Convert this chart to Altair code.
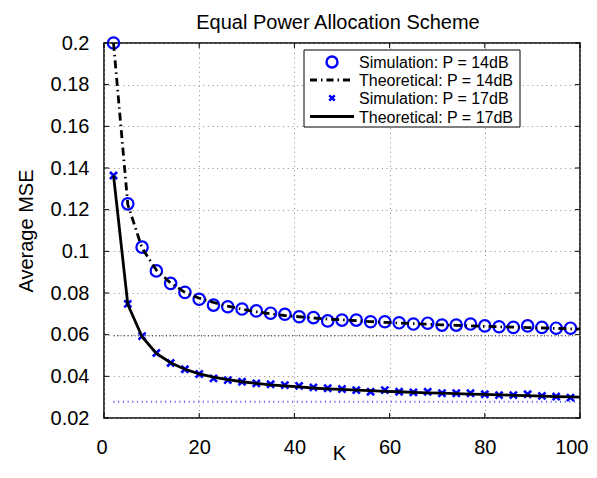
import altair as alt
import pandas as pd

# ---- data ----
K_sim = [2, 5, 8, 11, 14, 17, 20, 23, 26, 29, 32, 35, 38, 41, 44, 47, 50,
         53, 56, 59, 62, 65, 68, 71, 74, 77, 80, 83, 86, 89, 92, 95, 98]
sim_14 = [0.2000, 0.1228, 0.1020, 0.0906, 0.0846, 0.0803, 0.0770, 0.0742,
          0.0734, 0.0723, 0.0714, 0.0703, 0.0698, 0.0686, 0.0682, 0.0666,
          0.0670, 0.0670, 0.0662, 0.0662, 0.0657, 0.0651, 0.0655, 0.0646,
          0.0646, 0.0651, 0.0642, 0.0638, 0.0635, 0.0642, 0.0635, 0.0631, 0.0631]
sim_17 = [0.1364, 0.0748, 0.0593, 0.0512, 0.0464, 0.0434, 0.0411, 0.0390,
          0.0382, 0.0374, 0.0366, 0.0362, 0.0358, 0.0354, 0.0347, 0.0343,
          0.0339, 0.0334, 0.0326, 0.0334, 0.0326, 0.0323, 0.0326, 0.0319,
          0.0319, 0.0319, 0.0314, 0.0310, 0.0310, 0.0314, 0.0306, 0.0303, 0.0298]
K_theory = K_sim + [100]
theory_14 = [0.2000, 0.1225, 0.1015, 0.0910, 0.0848, 0.0803, 0.0775, 0.0755,
             0.0737, 0.0722, 0.0710, 0.0700, 0.0692, 0.0686, 0.0680, 0.0675,
             0.0671, 0.0667, 0.0663, 0.0659, 0.0656, 0.0653, 0.0650, 0.0647,
             0.0645, 0.0642, 0.0640, 0.0638, 0.0636, 0.0634, 0.0632, 0.0630,
             0.0628, 0.0627]
theory_17 = [0.1365, 0.0745, 0.0590, 0.0510, 0.0465, 0.0434, 0.0412, 0.0396,
             0.0384, 0.0374, 0.0366, 0.0359, 0.0354, 0.0349, 0.0344, 0.0340,
             0.0337, 0.0334, 0.0331, 0.0328, 0.0326, 0.0323, 0.0321, 0.0319,
             0.0317, 0.0315, 0.0313, 0.0311, 0.0309, 0.0307, 0.0305, 0.0303,
             0.0301, 0.0300]
floor_K = [2, 99]
floor_14 = [0.0595, 0.0595]
floor_17 = [0.0278, 0.0278]
x_ticks = [0, 20, 40, 60, 80, 100]
y_ticks = [0.02, 0.04, 0.06, 0.08, 0.10, 0.12, 0.14, 0.16, 0.18, 0.20]
legend_labels = ["Simulation: P = 14dB", "Theoretical: P = 14dB",
                 "Simulation: P = 17dB", "Theoretical: P = 17dB"]
title_text = "Equal Power Allocation Scheme"

FONT = "Liberation Sans"
BLUE = "#0000ff"
W, H = 476, 375
XS = alt.Scale(domain=[0, 100], nice=False, zero=False, padding=0)
YS = alt.Scale(domain=[0.02, 0.2], nice=False, zero=False, padding=0)
XPATH = "M-1,-1L1,1M-1,1L1,-1"
DASHDOT = [8, 4, 1.5, 4]

df_sim14 = pd.DataFrame({"K": K_sim, "mse": sim_14})
df_sim17 = pd.DataFrame({"K": K_sim, "mse": sim_17})
df_th14 = pd.DataFrame({"K": K_theory, "mse": theory_14})
df_th17 = pd.DataFrame({"K": K_theory, "mse": theory_17})
df_f14 = pd.DataFrame({"K": floor_K, "mse": floor_14})
df_f17 = pd.DataFrame({"K": floor_K, "mse": floor_17})
df_xt = pd.DataFrame({"K": x_ticks})
df_yt = pd.DataFrame({"mse": y_ticks})

x_axis = alt.Axis(values=x_ticks, title="K", grid=True, ticks=False, tickSize=0,
                  domain=False, labelFontSize=20, labelFont=FONT, labelColor="black",
                  labelPadding=19, labelFlush=True, labelFlushOffset=8,
                  titleFontSize=20, titleFont=FONT,
                  titleFontWeight="normal", titleColor="black",
                  titleBaseline="alphabetic", titleY=41, titleX=W / 2 - 3)
y_axis = alt.Axis(values=y_ticks, title="Average MSE", format=".2~f", grid=True,
                  ticks=False, tickSize=0, domain=False, labelFontSize=20,
                  labelFont=FONT, labelColor="black", labelPadding=15,
                  titleFontSize=20, titleFont=FONT, titleFontWeight="normal",
                  titleColor="black", titleBaseline="alphabetic", titleX=-72,
                  titleY=H / 2, titleAngle=270)

X = alt.X("K:Q", scale=XS, axis=x_axis)
Y = alt.Y("mse:Q", scale=YS, axis=y_axis)

sim14 = alt.Chart(df_sim14).mark_point(
    shape="circle", filled=False, color=BLUE, size=130, strokeWidth=2.2, opacity=1
).encode(x=X, y=Y)
sim17 = alt.Chart(df_sim17).mark_point(
    shape=XPATH, filled=False, color=BLUE, size=50, strokeWidth=2.6, opacity=1
).encode(x=X, y=Y)
f17 = alt.Chart(df_f17).mark_line(color="#4b4bff", strokeWidth=2, strokeDash=[1, 3.7]).encode(x=X, y=Y)
f14 = alt.Chart(df_f14).mark_line(color="#555555", strokeWidth=1.6, strokeDash=[1, 2.5]).encode(x=X, y=Y)
th14 = alt.Chart(df_th14).mark_line(color="black", strokeWidth=2.8, strokeDash=DASHDOT).encode(x=X, y=Y)
th17 = alt.Chart(df_th17).mark_line(color="black", strokeWidth=2.8).encode(x=X, y=Y)

# inward ticks on all four sides
tick_b = alt.Chart(df_xt).mark_rule(color="black", strokeWidth=1).encode(x=X, y=alt.value(H), y2=alt.value(H - 5))
tick_t = alt.Chart(df_xt).mark_rule(color="black", strokeWidth=1).encode(x=X, y=alt.value(0), y2=alt.value(5))
tick_l = alt.Chart(df_yt).mark_rule(color="black", strokeWidth=1).encode(y=Y, x=alt.value(0), x2=alt.value(5))
tick_r = alt.Chart(df_yt).mark_rule(color="black", strokeWidth=1).encode(y=Y, x=alt.value(W), x2=alt.value(W - 5))

# title as text above the plot
one = alt.Data(values=[{"a": 1}])
title_mark = alt.Chart(one).mark_text(
    text=title_text, align="center", baseline="alphabetic", font=FONT,
    fontSize=20, color="black").encode(x=alt.value(W / 2 - 4), y=alt.value(-14))

# legend box (manual, MATLAB style)
LX0, LX1, LY0, LY1 = 200, 416, 7, 84
rows = [19, 37, 55, 73.5]
leg_box = alt.Chart(one).mark_rect(fill="white", stroke="black", strokeWidth=1).encode(
    x=alt.value(LX0), x2=alt.value(LX1), y=alt.value(LY0), y2=alt.value(LY1))
leg_c = alt.Chart(one).mark_point(shape="circle", filled=False, color=BLUE, size=120,
                                  strokeWidth=2.4, opacity=1).encode(
    x=alt.value(228), y=alt.value(rows[0]))
leg_dd = alt.Chart(one).mark_rule(color="black", strokeWidth=2.8, strokeDash=[7, 4, 1.5, 4]).encode(
    x=alt.value(206), x2=alt.value(250), y=alt.value(rows[1]))
leg_x = alt.Chart(one).mark_point(shape=XPATH, filled=False, color=BLUE, size=30,
                                  strokeWidth=2.5, opacity=1).encode(
    x=alt.value(228), y=alt.value(rows[2]))
leg_s = alt.Chart(one).mark_rule(color="black", strokeWidth=2.8).encode(
    x=alt.value(206), x2=alt.value(250), y=alt.value(rows[3]))
leg_texts = [
    alt.Chart(one).mark_text(text=lab, align="left", baseline="middle", font=FONT,
                             fontSize=16, color="black").encode(
        x=alt.value(255), y=alt.value(r + 1))
    for lab, r in zip(legend_labels, rows)
]

chart = alt.layer(
    sim14, f14, f17, sim17, th14, th17,
    tick_b, tick_t, tick_l, tick_r, title_mark,
    leg_box, leg_c, leg_dd, leg_x, leg_s, *leg_texts
).properties(
    width=W, height=H,
    autosize=alt.AutoSizeParams(type="none"),
    padding={"left": 96, "top": 35, "right": 9, "bottom": 46},
).configure_view(
    stroke="black", strokeWidth=1.5
).configure_axis(
    gridColor="#8c8c8c", gridDash=[1, 3.7], gridWidth=1, gridOpacity=1
)

chart.save("out.html", embed_options={"renderer": "svg", "actions": False})
